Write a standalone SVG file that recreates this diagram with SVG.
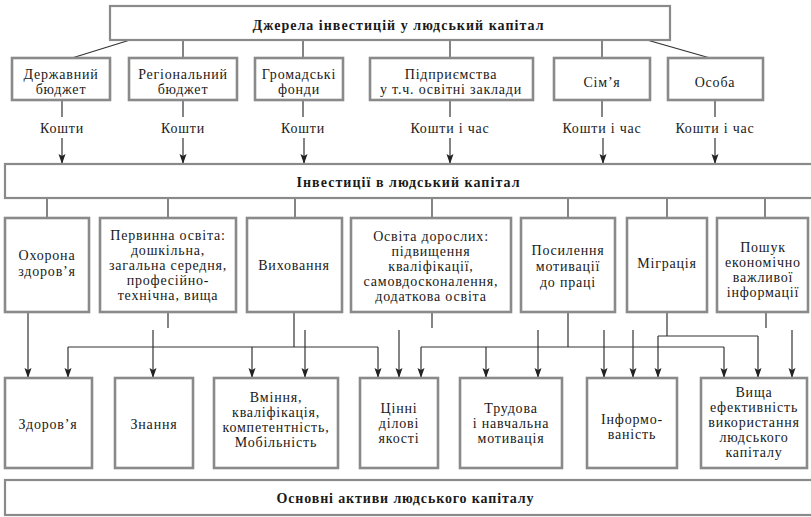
<svg xmlns="http://www.w3.org/2000/svg" width="811" height="517" viewBox="0 0 811 517">
<defs>
<marker id="ah" markerUnits="userSpaceOnUse" markerWidth="10" markerHeight="8" viewBox="0 0 10 8" refX="10" refY="4" orient="auto">
<path d="M0,0.5 L10,4 L0,7.5 L2,4 z" fill="#222"/>
</marker>
<style>
.box{fill:#fff;stroke:#8a8a8a;stroke-width:2.6}
.bar{fill:#fff;stroke:#8a8a8a;stroke-width:2.2}
.t{font-family:"Liberation Serif","DejaVu Serif","Times New Roman",serif;font-size:14px;fill:#1a1a1a;text-anchor:middle;letter-spacing:0.8px}
.h{font-family:"Liberation Serif","DejaVu Serif","Times New Roman",serif;font-size:14px;font-weight:bold;fill:#1a1a1a;text-anchor:middle}
.c line,.c path{stroke:#333;stroke-width:1.2;fill:none}
.a{marker-end:url(#ah)}
</style>
</defs>
<rect width="811" height="517" fill="#fff"/>

<g class="c" id="connectors">
<line x1="130" y1="40" x2="72" y2="58"/>
<line x1="183" y1="40" x2="183" y2="58"/>
<line x1="303" y1="40" x2="303" y2="58"/>
<line x1="450" y1="40" x2="450" y2="58"/>
<line x1="602" y1="40" x2="602" y2="58"/>
<line x1="647" y1="40" x2="710" y2="58"/>
<line x1="62" y1="100" x2="62" y2="117"/>
<line x1="183" y1="100" x2="183" y2="117"/>
<line x1="303" y1="100" x2="303" y2="117"/>
<line x1="450" y1="100" x2="450" y2="117"/>
<line x1="602" y1="100" x2="602" y2="117"/>
<line x1="715" y1="100" x2="715" y2="117"/>
<line class="a" x1="62" y1="138" x2="62" y2="164"/>
<line class="a" x1="183" y1="138" x2="183" y2="164"/>
<line class="a" x1="304" y1="138" x2="304" y2="164"/>
<line class="a" x1="450" y1="138" x2="450" y2="164"/>
<line class="a" x1="603" y1="138" x2="603" y2="164"/>
<line class="a" x1="715" y1="138" x2="715" y2="164"/>
<line x1="47" y1="198" x2="47" y2="218"/>
<line x1="168" y1="198" x2="168" y2="218"/>
<line x1="295" y1="198" x2="295" y2="218"/>
<line x1="432" y1="198" x2="432" y2="218"/>
<line x1="568" y1="198" x2="568" y2="218"/>
<line x1="667" y1="198" x2="667" y2="218"/>
<line x1="765" y1="198" x2="765" y2="218"/>
<line class="a" x1="28" y1="312" x2="28" y2="378"/>
<line x1="168" y1="312" x2="168" y2="328"/>
<line class="a" x1="153" y1="330" x2="153" y2="378"/>
<path d="M294,312 V347 M68,347 H378"/>
<line class="a" x1="68" y1="347" x2="68" y2="378"/>
<line class="a" x1="252" y1="347" x2="252" y2="378"/>
<line class="a" x1="378" y1="347" x2="378" y2="378"/>
<line class="a" x1="305" y1="330" x2="305" y2="378"/>
<line x1="432" y1="312" x2="432" y2="328"/>
<line class="a" x1="399" y1="330" x2="399" y2="378"/>
<path d="M568,312 V347 M421,347 H724"/>
<line class="a" x1="421" y1="347" x2="421" y2="378"/>
<line class="a" x1="486" y1="347" x2="486" y2="378"/>
<line class="a" x1="724" y1="347" x2="724" y2="378"/>
<line class="a" x1="538" y1="330" x2="538" y2="378"/>
<line class="a" x1="604" y1="330" x2="604" y2="378"/>
<line class="a" x1="633" y1="330" x2="633" y2="378"/>
<path d="M667,312 V336 M658,336 H758"/>
<line class="a" x1="658" y1="336" x2="658" y2="378"/>
<line class="a" x1="758" y1="336" x2="758" y2="378"/>
<line x1="766" y1="312" x2="766" y2="328"/>
<line class="a" x1="792" y1="330" x2="792" y2="378"/>
</g>

<g id="labels">
<text class="t" x="62" y="133">Кошти</text>
<text class="t" x="183" y="133">Кошти</text>
<text class="t" x="303" y="133">Кошти</text>
<text class="t" x="450" y="133">Кошти і час</text>
<text class="t" x="602" y="133">Кошти і час</text>
<text class="t" x="715" y="133">Кошти і час</text>
</g>

<g id="sources">
<rect class="bar" x="110" y="6" width="560" height="34"/>
<text class="h" x="398" y="30" textLength="291" lengthAdjust="spacing">Джерела інвестицій у людський капітал</text>
</g>

<g id="src1"><rect class="box" x="12" y="58" width="98" height="42"/><text class="t" x="61" y="79">Державний</text><text class="t" x="61" y="94">бюджет</text></g>
<g id="src2"><rect class="box" x="129" y="58" width="108" height="42"/><text class="t" x="183" y="79">Регіональний</text><text class="t" x="183" y="94">бюджет</text></g>
<g id="src3"><rect class="box" x="255" y="58" width="88" height="42"/><text class="t" x="299" y="79">Громадські</text><text class="t" x="299" y="94">фонди</text></g>
<g id="src4"><rect class="box" x="370" y="58" width="163" height="42"/><text class="t" x="451" y="79">Підприємства</text><text class="t" x="451" y="94">у т.ч. освітні заклади</text></g>
<g id="src5"><rect class="box" x="554" y="58" width="96" height="42"/><text class="t" x="602" y="87">Сім’я</text></g>
<g id="src6"><rect class="box" x="668" y="58" width="95" height="42"/><text class="t" x="715" y="87">Особа</text></g>

<g id="investments">
<rect class="bar" x="5" y="164" width="812" height="34"/>
<text class="h" x="408" y="187" textLength="223" lengthAdjust="spacing">Інвестиції в людський капітал</text>
</g>

<g id="inv1"><rect class="box" x="5" y="218" width="84" height="94"/><text class="t" x="47" y="260">Охорона</text><text class="t" x="47" y="276">здоров’я</text></g>
<g id="inv2"><rect class="box" x="100" y="218" width="136" height="94"/>
<text class="t" x="168" y="240">Первинна освіта:</text><text class="t" x="168" y="255">дошкільна,</text><text class="t" x="168" y="270">загальна середня,</text><text class="t" x="168" y="285">професійно-</text><text class="t" x="168" y="300">технічна, вища</text></g>
<g id="inv3"><rect class="box" x="247" y="218" width="95" height="94"/><text class="t" x="294" y="270">Виховання</text></g>
<g id="inv4"><rect class="box" x="351" y="218" width="160" height="94"/>
<text class="t" x="431" y="241">Освіта дорослих:</text><text class="t" x="431" y="256">підвищення</text><text class="t" x="431" y="271">кваліфікації,</text><text class="t" x="431" y="286">самовдосконалення,</text><text class="t" x="431" y="301">додаткова освіта</text></g>
<g id="inv5"><rect class="box" x="521" y="218" width="94" height="94"/><text class="t" x="568" y="255">Посилення</text><text class="t" x="568" y="271">мотивації</text><text class="t" x="568" y="287">до праці</text></g>
<g id="inv6"><rect class="box" x="627" y="218" width="80" height="94"/><text class="t" x="667" y="268">Міграція</text></g>
<g id="inv7"><rect class="box" x="717" y="218" width="91" height="94"/><text class="t" x="763" y="252">Пошук</text><text class="t" x="763" y="267">економічно</text><text class="t" x="763" y="282">важливої</text><text class="t" x="763" y="297">інформації</text></g>

<g id="out1"><rect class="box" x="5" y="378" width="87" height="90"/><text class="t" x="48" y="429">Здоров’я</text></g>
<g id="out2"><rect class="box" x="115" y="378" width="78" height="90"/><text class="t" x="154" y="429">Знання</text></g>
<g id="out3"><rect class="box" x="214" y="378" width="124" height="90"/><text class="t" x="276" y="402">Вміння,</text><text class="t" x="276" y="417">кваліфікація,</text><text class="t" x="276" y="432">компетентність,</text><text class="t" x="276" y="447">Мобільність</text></g>
<g id="out4"><rect class="box" x="360" y="378" width="78" height="90"/><text class="t" x="399" y="413">Цінні</text><text class="t" x="399" y="428">ділові</text><text class="t" x="399" y="443">якості</text></g>
<g id="out5"><rect class="box" x="460" y="378" width="102" height="90"/><text class="t" x="511" y="413">Трудова</text><text class="t" x="511" y="428">і навчальна</text><text class="t" x="511" y="443">мотивація</text></g>
<g id="out6"><rect class="box" x="587" y="378" width="90" height="90"/><text class="t" x="632" y="424">Інформо-</text><text class="t" x="632" y="439">ваність</text></g>
<g id="out7"><rect class="box" x="701" y="378" width="106" height="90"/><text class="t" x="754" y="397">Вища</text><text class="t" x="754" y="412">ефективність</text><text class="t" x="754" y="427">використання</text><text class="t" x="754" y="442">людського</text><text class="t" x="754" y="457">капіталу</text></g>

<g id="assets">
<rect class="bar" x="5" y="480" width="812" height="35"/>
<text class="h" x="405" y="503" textLength="257" lengthAdjust="spacing">Основні активи людського капіталу</text>
</g>
</svg>
